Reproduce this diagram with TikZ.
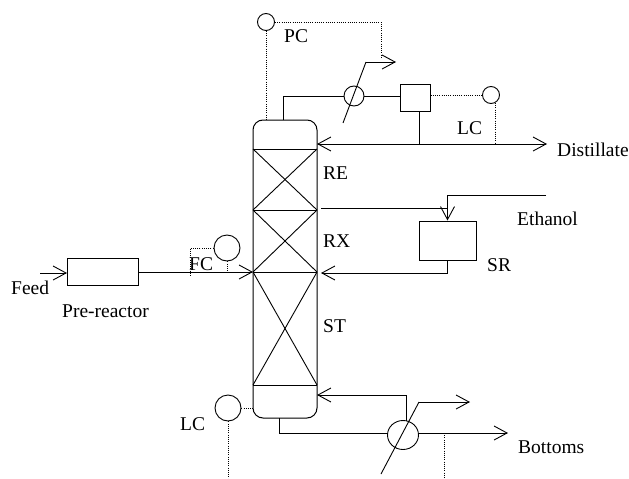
\documentclass[tikz,border=0pt]{standalone}
\usepackage{fontspec}
\setmainfont{Liberation Serif}
\usetikzlibrary{arrows.meta,positioning,shapes.geometric}
\tikzset{
  flow/.style={-{Straight Barb[length=13pt,width=14pt]},line width=0.9pt,draw=black},
  twoway/.style={flow,{Straight Barb[length=13pt,width=14pt]}-{Straight Barb[length=13pt,width=14pt]}},
  pipe/.style={line width=0.9pt,draw=black},
  signal/.style={line width=0.7pt,draw=black,dash pattern=on 1pt off 1.2pt},
  vessel/.style={draw=black,line width=1pt,fill=white,inner sep=0pt},
  tower/.style={vessel,rounded corners=10pt,minimum width=64pt,minimum height=298pt},
  ctrl/.style={circle,draw=black,line width=0.9pt,inner sep=0pt},
  exchanger/.style={ellipse,draw=black,line width=0.9pt,inner sep=0pt},
  tag/.style={font=\fontsize{19.5}{22}\selectfont,inner sep=0pt,anchor=west},
}
\begin{document}
\begin{tikzpicture}[x=1pt,y=-1pt]
    \useasboundingbox (0,0) rectangle (629,479);
    \node[tower] (column) at (285,269) {};
    \foreach \name/\ypos in {a/149,b/210,c/272,d/385}{
      \coordinate (\name w) at (253,\ypos);
      \coordinate (\name e) at (317,\ypos);
      \draw[pipe] (\name w) -- (\name e);
    }
    \foreach \upper/\lower in {a/b,b/c,c/d}{
      \draw[pipe] (\upper w) -- (\lower e);
      \draw[pipe] (\upper e) -- (\lower w);
    }
    \node[ctrl,minimum size=17pt] (pc) at (266,22) {};
    \node[ctrl,minimum size=20pt] (cond) at (354,96) {};
    \node[vessel,minimum width=30pt,minimum height=27pt] (drum) at (415,97.5) {};
    \node[ctrl,minimum size=17pt] (lctop) at (491,95) {};
    \node[vessel,minimum width=71pt,minimum height=27pt,left=114pt of cw] (prereactor) {};
    \node[ctrl,minimum size=26pt] (fc) at (227,248) {};
    \node[vessel,minimum width=57pt,minimum height=39pt] (sr) at (447.5,240.5) {};
    \node[ctrl,minimum size=26pt] (lcbot) at (228,408) {};
    \node[exchanger,minimum width=31pt,minimum height=29pt] (reb) at (403,435) {};
    \coordinate (vapour) at (283,120);
    \coordinate (condlow) at (343,123);
    \coordinate (condhigh) at (366,62);
    \coordinate (condout) at (396,62);
    \coordinate (drumdrop) at (419,144);
    \coordinate (distin) at (317,144);
    \coordinate (distout) at (547,144);
    \coordinate (lcturn) at (495,103);
    \coordinate (lcjoin) at (495,144);
    \coordinate (feedin) at (40,273);
    \coordinate (ethin) at (546,195);
    \coordinate (drawoff) at (321,208);
    \coordinate (drawjoin) at (447,208);
    \coordinate (srturn) at (447.5,273);
    \coordinate (srback) at (321,273);
    \coordinate (sump) at (279,418);
    \coordinate (rebin) at (387,433);
    \coordinate (reblow) at (381,474);
    \coordinate (rebhigh) at (419,402);
    \coordinate (rebout) at (470,402);
    \coordinate (rebtop) at (406,421);
    \coordinate (boilup) at (317,395);
    \coordinate (botstart) at (419,433);
    \coordinate (botout) at (508,433);
    \coordinate (botjoin) at (444,433);
    \coordinate (fcdrop) at (190,276);
    \coordinate (pcdrop) at (381,58);
    \coordinate (lcdrop) at (228,479);
    \coordinate (botdrop) at (444,479);
    \draw[signal] (pc.south) -- (pc.south |- column.north);
    \draw[signal] (pc.east) -| (pcdrop);
    \draw[pipe] (vapour) |- (cond.west);
    \draw[pipe] (condlow) -- (condhigh);
    \draw[flow] (condhigh) -- (condout);
    \draw[pipe] (cond.east) -- (cond.east -| drum.west);
    \draw[pipe] (drumdrop |- drum.south) -- (drumdrop);
    \draw[twoway] (distin) -- (distout);
    \draw[signal] (drum.east |- lctop) -- (lctop.west);
    \draw[signal] (lcturn) -- (lcjoin);
    \draw[flow] (feedin) -- (prereactor.west |- feedin);
    \draw[flow] (prereactor.east |- cw) -- (cw);
    \draw[signal] (fc.west) -| (fcdrop);
    \draw[signal] (fc.south) -- (fc.south |- cw);
    \draw[pipe] (drawoff) -- (drawjoin);
    \draw[flow] (ethin) -| (sr.north);
    \draw[pipe] (sr.south) -- (srturn);
    \draw[flow] (srturn) -- (srback);
    \draw[signal] (lcbot.east) -- (lcbot.east -| column.west);
    \draw[signal] (lcbot.south) -- (lcdrop);
    \draw[pipe] (sump) |- (rebin);
    \draw[flow] (botstart) -- (botout);
    \draw[flow] (rebtop) |- (boilup);
    \draw[pipe] (reblow) -- (rebhigh);
    \draw[flow] (rebhigh) -- (rebout);
    \draw[signal] (botjoin) -- (botdrop);
    \node[tag] (pclabel) at (284,36) {PC};
    \node[tag] (lclabeltop) at (457,128) {LC};
    \node[tag] (distlabel) at (557,150) {Distillate};
    \node[tag] (relabel) at (323,173) {RE};
    \node[tag] (rxlabel) at (323,241) {RX};
    \node[tag] (stlabel) at (323,326) {ST};
    \node[tag] (ethlabel) at (517,219) {Ethanol};
    \node[tag] (srlabel) at (487,265) {SR};
    \node[tag] (fclabel) at (189,264) {FC};
    \node[tag] (feedlabel) at (11,288) {Feed};
    \node[tag] (prelabel) at (62,311) {Pre-reactor};
    \node[tag] (lclabelbot) at (180,424) {LC};
    \node[tag] (botlabel) at (518,447) {Bottoms};
  \end{tikzpicture}
\end{document}
